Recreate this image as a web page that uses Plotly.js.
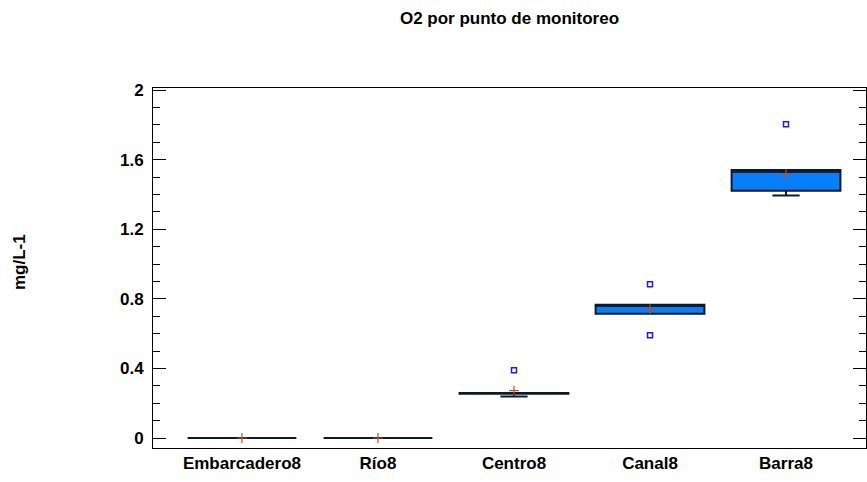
<!DOCTYPE html>
<html>
<head>
<meta charset="utf-8">
<script src="https://cdn.plot.ly/plotly-3.0.1.min.js"></script>
<style>html,body{margin:0;padding:0;background:#fff;}#chart{width:867px;height:482px;}</style>
</head>
<body>
<div id="chart"></div>
<script>
// Data
var categories = ['Embarcadero8', 'Río8', 'Centro8', 'Canal8', 'Barra8'];
var q1Values = [0, 0, 0.255, 0.714, 1.421];
var medianValues = [0, 0, 0.257, 0.759, 1.529];
var q3Values = [0, 0, 0.259, 0.766, 1.540];
var lowerFence = [0, 0, 0.239, 0.714, 1.393];
var upperFence = [0, 0, 0.259, 0.766, 1.540];
var meanValues = [0, 0, 0.272, 0.740, 1.517];
var outlierCats = ['Centro8', 'Canal8', 'Canal8', 'Barra8'];
var outlierValues = [0.389, 0.883, 0.590, 1.803];
var yTickVals = [0, 0.4, 0.8, 1.2, 1.6, 2];
var yTickText = ['0', '0.4', '0.8', '1.2', '1.6', '2'];

var FONT = 'Arial, "Liberation Sans", sans-serif';
var FS = 17;

var boxTrace = {
  type: 'box',
  x: categories,
  q1: q1Values,
  median: medianValues,
  q3: q3Values,
  lowerfence: lowerFence,
  upperfence: upperFence,
  boxpoints: false,
  width: 0.8,
  whiskerwidth: 0.25,
  fillcolor: '#0580fa',
  line: {color: '#0e1a2a', width: 2},
  hoverinfo: 'skip',
  showlegend: false
};

var outlierTrace = {
  type: 'scatter',
  mode: 'markers',
  x: outlierCats,
  y: outlierValues,
  marker: {symbol: 'square-open', size: 5, color: '#1a1aff', line: {width: 1.5, color: '#1a1aff'}},
  showlegend: false,
  hoverinfo: 'skip'
};

var meanTrace = {
  type: 'scatter',
  mode: 'markers',
  x: categories,
  y: meanValues,
  marker: {symbol: 'cross-thin-open', size: 7, color: '#b5502a', line: {width: 1.2, color: '#b5502a'}},
  showlegend: false,
  hoverinfo: 'skip'
};

var layout = {
  width: 867,
  height: 482,
  margin: {l: 153, r: 1, t: 88, b: 34, pad: 0},
  paper_bgcolor: '#ffffff',
  plot_bgcolor: '#ffffff',
  font: {family: FONT, color: '#000000', size: FS},
  title: {
    text: 'O2 por punto de monitoreo',
    font: {family: FONT, size: FS, color: '#000000', weight: 'bold'},
    xref: 'paper', x: 0.5, xanchor: 'center',
    yref: 'container', y: 1 - 18 / 482, yanchor: 'middle'
  },
  xaxis: {
    type: 'category',
    categoryorder: 'array',
    categoryarray: categories,
    range: [-0.654, 4.588],
    showgrid: false,
    zeroline: false,
    showline: true,
    linecolor: '#000000',
    linewidth: 1,
    mirror: true,
    ticks: '',
    tickfont: {family: FONT, size: FS, color: '#000000', weight: 'bold'}
  },
  yaxis: {
    range: [-0.0575, 2.0115],
    tickvals: yTickVals,
    ticktext: yTickText,
    showgrid: false,
    zeroline: false,
    showline: true,
    linecolor: '#000000',
    linewidth: 1,
    mirror: 'ticks',
    ticks: 'inside',
    ticklen: 13,
    tickwidth: 1,
    tickcolor: '#000000',
    ticklabelstandoff: 5,
    minor: {dtick: 0.1, ticks: 'inside', ticklen: 7, tickcolor: '#000000', tickwidth: 1, showgrid: false},
    tickfont: {family: FONT, size: FS, color: '#000000', weight: 'bold'}
  },
  annotations: [{
    text: 'mg/L-1',
    xref: 'paper', yref: 'paper',
    x: (19 - 153) / 713, y: (448 - 262) / 360,
    xanchor: 'center', yanchor: 'middle',
    textangle: -90,
    showarrow: false,
    font: {family: FONT, size: FS, color: '#000000', weight: 'bold'}
  }]
};

Plotly.newPlot('chart', [boxTrace, meanTrace, outlierTrace], layout, {displayModeBar: false, staticPlot: true});
</script>
</body>
</html>
